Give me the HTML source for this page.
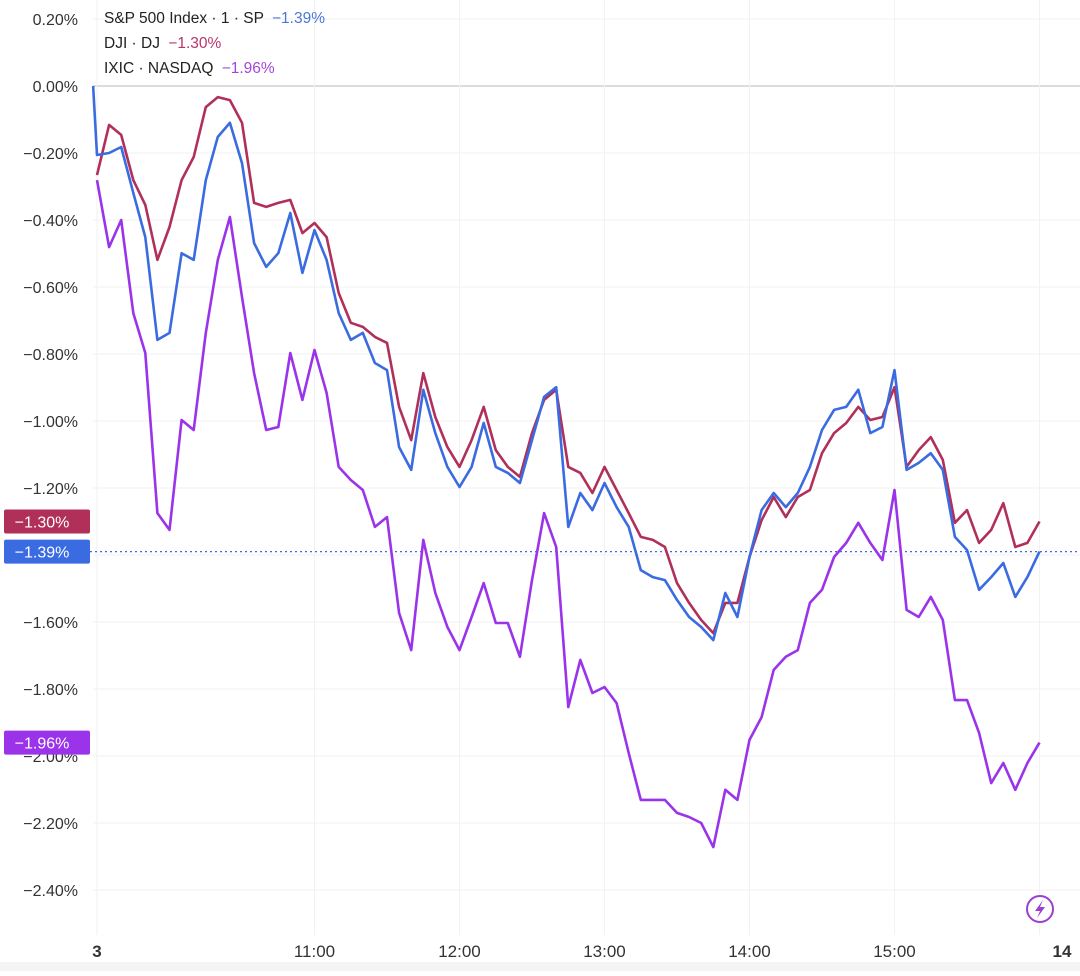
<!DOCTYPE html>
<html><head><meta charset="utf-8"><style>
html,body{margin:0;padding:0;background:#fff;}
body{width:1080px;height:971px;overflow:hidden;font-family:"Liberation Sans",sans-serif;}
</style></head><body>
<svg id="chart" width="1080" height="971" xmlns="http://www.w3.org/2000/svg" font-family="Liberation Sans, sans-serif">
<rect x="0" y="962" width="1080" height="9" fill="#f4f4f4"/>
<g id="grid"></g>
<g id="ylabels"></g>
<g id="xlabels"></g>
<g id="series"></g>
<g id="tags"></g>
<g font-size="15.5">
 <text x="104" y="23" fill="#222">S&amp;P 500 Index · 1 · SP <tspan fill="#4a78d8" dx="4">−1.39%</tspan></text>
 <text x="104" y="48" fill="#222">DJI · DJ <tspan fill="#b8336a" dx="4">−1.30%</tspan></text>
 <text x="104" y="73" fill="#222">IXIC · NASDAQ <tspan fill="#a445d8" dx="4">−1.96%</tspan></text>
</g>
<g>
 <circle cx="1040" cy="909" r="13" fill="#fff" stroke="#9b3fd0" stroke-width="2"/>
 <path d="M1043 900 L1035 911 L1040 911 L1037 918 L1045 907 L1040 907 Z" fill="#9b3fd0"/>
</g>
</svg>
<script>
const yTicks=[0.2,0,-0.2,-0.4,-0.6,-0.8,-1.0,-1.2,-1.4,-1.6,-1.8,-2.0,-2.2,-2.4];
const yTickLabels=["0.20%","0.00%","−0.20%","−0.40%","−0.60%","−0.80%","−1.00%","−1.20%","−1.40%","−1.60%","−1.80%","−2.00%","−2.20%","−2.40%"];
const xTickMinutes=[0,90,150,210,270,330];
const xTickLabels=["3","11:00","12:00","13:00","14:00","15:00"];
const stepMinutes=5;
const spOpen=0;
const dji=[-0.266,-0.116,-0.146,-0.281,-0.355,-0.519,-0.421,-0.281,-0.212,-0.063,-0.033,-0.042,-0.110,-0.349,-0.361,-0.349,-0.340,-0.439,-0.409,-0.451,-0.618,-0.707,-0.719,-0.749,-0.767,-0.958,-1.057,-0.857,-0.988,-1.078,-1.137,-1.057,-0.958,-1.087,-1.137,-1.167,-1.036,-0.937,-0.907,-1.137,-1.155,-1.215,-1.137,-1.206,-1.275,-1.346,-1.355,-1.376,-1.484,-1.543,-1.594,-1.633,-1.543,-1.543,-1.406,-1.296,-1.227,-1.287,-1.227,-1.206,-1.096,-1.036,-1.006,-0.958,-0.997,-0.988,-0.899,-1.137,-1.087,-1.048,-1.116,-1.304,-1.266,-1.364,-1.325,-1.245,-1.376,-1.364,-1.30];
const sp=[-0.206,-0.200,-0.182,-0.319,-0.451,-0.758,-0.737,-0.499,-0.519,-0.281,-0.152,-0.110,-0.230,-0.469,-0.540,-0.499,-0.379,-0.558,-0.430,-0.519,-0.678,-0.758,-0.737,-0.827,-0.848,-1.078,-1.146,-0.907,-1.036,-1.137,-1.197,-1.137,-1.006,-1.137,-1.155,-1.185,-1.057,-0.928,-0.899,-1.316,-1.215,-1.266,-1.185,-1.257,-1.316,-1.445,-1.466,-1.475,-1.534,-1.585,-1.615,-1.654,-1.513,-1.585,-1.406,-1.266,-1.215,-1.257,-1.215,-1.137,-1.027,-0.967,-0.958,-0.907,-1.036,-1.018,-0.848,-1.146,-1.125,-1.096,-1.146,-1.346,-1.385,-1.504,-1.466,-1.424,-1.525,-1.466,-1.39];
const ixic=[-0.281,-0.481,-0.400,-0.678,-0.797,-1.275,-1.325,-0.997,-1.027,-0.737,-0.519,-0.391,-0.630,-0.857,-1.027,-1.018,-0.797,-0.937,-0.788,-0.916,-1.137,-1.176,-1.206,-1.316,-1.287,-1.573,-1.684,-1.355,-1.513,-1.615,-1.684,-1.585,-1.484,-1.603,-1.603,-1.704,-1.475,-1.275,-1.376,-1.854,-1.713,-1.812,-1.794,-1.842,-1.991,-2.131,-2.131,-2.131,-2.170,-2.182,-2.200,-2.272,-2.101,-2.131,-1.952,-1.884,-1.743,-1.704,-1.684,-1.543,-1.504,-1.406,-1.364,-1.304,-1.364,-1.415,-1.206,-1.564,-1.585,-1.525,-1.594,-1.833,-1.833,-1.931,-2.081,-2.021,-2.101,-2.021,-1.96];
const lastLabels=["−1.30%","−1.39%","−1.96%"];

const NS="http://www.w3.org/2000/svg";
function yS(v){return 86-v*335;}
function xS(m){return 97+m*145/60;}
function mk(tag,attrs,parent){const e=document.createElementNS(NS,tag);for(const k in attrs)e.setAttribute(k,attrs[k]);parent.appendChild(e);return e;}
const grid=document.getElementById('grid'),yl=document.getElementById('ylabels'),xl=document.getElementById('xlabels'),ser=document.getElementById('series'),tags=document.getElementById('tags');
yTicks.forEach((v,i)=>{
  const ln=mk('line',{x1:93,x2:1080,y1:yS(v),y2:yS(v),stroke:v===0?'#b8b8b8':'#f0f0f0','stroke-width':1},grid);
  
  
  const t=mk('text',{x:78,y:yS(v)+6,'text-anchor':'end','font-size':16,fill:'#333'},yl);
  
  
  t.textContent=yTickLabels[i];
});
xTickMinutes.forEach((m,i)=>{
  const ln=mk('line',{x1:xS(m),x2:xS(m),y1:0,y2:935,stroke:'#f2f2f2','stroke-width':1},grid);
  
  
  const t=mk('text',{x:xS(m),y:957,'text-anchor':'middle','font-size':17,fill:'#333','font-weight':i===0?'bold':'normal'},xl);
  
  
  t.textContent=xTickLabels[i];
});
const lnEnd=mk('line',{x1:xS(390),x2:xS(390),y1:0,y2:935,stroke:'#f2f2f2'},grid);


const t14=mk('text',{x:1062,y:957,'text-anchor':'middle','font-size':17,fill:'#333','font-weight':'bold'},xl);


t14.textContent="14";
// dotted last price line
const dl=mk('line',{x1:90,x2:1080,y1:yS(sp[sp.length-1]),y2:yS(sp[sp.length-1]),stroke:'#3a6be0','stroke-width':1.2,'stroke-dasharray':'2 3'},ser);


function draw(arr,color,name,open){
  let d=open!==undefined?`M${xS(-1.6)},${yS(open)} L`:'M';
  d+=arr.map((v,i)=>`${xS(i*stepMinutes).toFixed(1)},${yS(v).toFixed(1)}`).join(' L');
  const p=mk('path',{d:d,fill:'none',stroke:color,'stroke-width':2.6,'stroke-linejoin':'round'},ser);
  
  
}
draw(ixic,'#9a33ea','ixic-line');
draw(dji,'#b0305a','dji-line');
draw(sp,'#3a6be0','sp500-line',spOpen);
[[dji,'#b0305a','dji-tag'],[sp,'#3a6be0','sp500-tag'],[ixic,'#9a33ea','ixic-tag']].forEach((s,i)=>{
  const y=yS(s[0][s[0].length-1]);
  const r=mk('rect',{x:4,y:y-12,width:86,height:24,rx:2,fill:s[1]},tags);
  
  
  const t=mk('text',{x:42,y:y+6,'text-anchor':'middle','font-size':16,fill:'#fff'},tags);
  
  
  t.textContent=lastLabels[i];
});
</script>
</body></html>
